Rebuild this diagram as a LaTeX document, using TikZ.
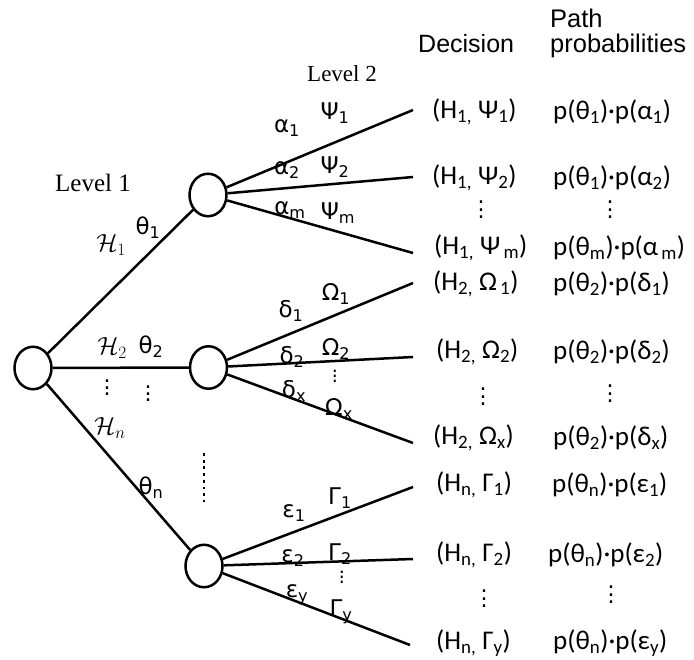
\documentclass[tikz,border=0pt]{standalone}
\usepackage{fontspec}
\usetikzlibrary{shapes.geometric}
\newfontfamily\brfont{DejaVu Sans}
\newfontfamily\colfont{Carlito}
\newfontfamily\hdfont{Liberation Sans}
\newfontfamily\lvfont{Liberation Serif}
\newcommand\sub[1]{\textsubscript{#1}}
% three stacked dots with a given pitch
\newcommand\vdd[1]{\vbox{\baselineskip=#1\lineskiplimit=0pt\hbox{.}\hbox{.}\hbox{.}}}
\tikzset{
  edge/.style={line width=2.5pt},
  chance/.style={draw, ellipse, line width=2.5pt, minimum width=37pt,
    minimum height=42.5pt, inner sep=0pt},
  brlab/.style={inner sep=0pt, font=\fontsize{23}{23}\brfont},
  callab/.style={inner sep=0pt, font=\fontsize{27}{27}\selectfont},
  lvlab/.style={inner sep=0pt, font=\fontsize{25}{25}\lvfont},
  hdlab/.style={inner sep=0pt, anchor=base west, font=\fontsize{25.5}{25.5}\hdfont},
  declab/.style={inner sep=0pt, anchor=west, font=\fontsize{27}{27}\colfont},
  prlab/.style={inner sep=0pt, anchor=west, font=\fontsize{27}{27}\colfont},
  coldots/.style={inner sep=0pt, font=\fontsize{22}{22}\brfont},
  smdots/.style={inner sep=0pt, font=\fontsize{22}{22}\brfont},
  tinydots/.style={inner sep=0pt, font=\fontsize{19}{19}\brfont},
  dotline/.style={line width=2.8pt, dash pattern=on 2.8pt off 3.9pt},
}
\begin{document}
\begin{tikzpicture}[x=1pt,y=-1pt]
\useasboundingbox (0,0) rectangle (694,660);

% chance nodes
\node[chance] (r)  at (33,368) {};
\node[chance] (c1) at (208,195) {};
\node[chance] (c2) at (208.5,367.5) {};
\node[chance] (c3) at (204,566) {};

% first-level branches
\draw[edge] (r) -- (c1);
\draw[edge] (r) -- (c2);
\draw[edge] (r) -- (c3);

% leaf ends
\coordinate (e11) at (413,110);
\coordinate (e12) at (413,177);
\coordinate (e1m) at (413,253);
\coordinate (e21) at (413,283);
\coordinate (e22) at (413,357);
\coordinate (e2x) at (413,443);
\coordinate (e31) at (413,487);
\coordinate (e32) at (413,559);
\coordinate (e3y) at (410,645);

% second-level branches
\draw[edge] (c1) -- (e11);
\draw[edge] (c1) -- (e12);
\draw[edge] (c1) -- (e1m);
\draw[edge] (c2) -- (e21);
\draw[edge] (c2) -- (e22);
\draw[edge] (c2) -- (e2x);
\draw[edge] (c3) -- (e31);
\draw[edge] (c3) -- (e32);
\draw[edge] (c3) -- (e3y);

% level captions
\node[lvlab] (lv1) at (93,183) {Level 1};
\node[lvlab, font=\fontsize{23}{23}\lvfont] (lv2) at (342,74) {Level 2};

% first-level labels
\node[callab] (h1) at (111,245) {$\mathcal{H}_1$};
\node[brlab] (t1) at (148,228) {θ\sub{1}};
\node[callab] (h2) at (112,348) {$\mathcal{H}_2$};
\node[brlab] (t2) at (151,347) {θ\sub{2}};
\node[smdots] (d1a) at (107,388) {\vdd{6.5pt}};
\node[smdots] (d1b) at (148,394) {\vdd{6.5pt}};
\node[callab] (hn) at (110,428) {$\mathcal{H}_n$};
\node[brlab] (tn) at (151,488) {θ\sub{n}};
\coordinate (dl1) at (204,453);
\coordinate (dl2) at (204,502);
\draw[dotline] (dl1) -- (dl2);

% second-level labels, branch 1
\node[brlab] (a1) at (287,128) {α\sub{1}};
\node[brlab] (p1) at (335,113) {Ψ\sub{1}};
\node[brlab] (a2) at (287,170) {α\sub{2}};
\node[brlab] (p2) at (335,167) {Ψ\sub{2}};
\node[brlab] (am) at (290,210) {α\sub{m}};
\node[brlab] (pm) at (338,213) {Ψ\sub{m}};
% branch 2
\node[brlab] (dd1) at (291,311) {δ\sub{1}};
\node[brlab] (o1) at (336,294) {Ω\sub{1}};
\node[brlab] (dd2) at (292,357) {δ\sub{2}};
\node[brlab] (o2) at (336,349) {Ω\sub{2}};
\node[brlab] (ddx) at (294,391) {δ\sub{x}};
\node[brlab] (ox) at (339,409) {Ω\sub{x}};
\node[tinydots] (od) at (335,376) {\vdd{5pt}};
% branch 3
\node[brlab] (ee1) at (294,513) {ε\sub{1}};
\node[brlab] (g1) at (340,498) {Γ\sub{1}};
\node[brlab] (ee2) at (293,558) {ε\sub{2}};
\node[brlab] (g2) at (340,554) {Γ\sub{2}};
\node[brlab] (eey) at (297,595) {ε\sub{y}};
\node[brlab] (gy) at (341,612) {Γ\sub{y}};
\node[tinydots] (gd) at (342,577) {\vdd{5pt}};

% column headers
\node[hdlab, font=\fontsize{25}{25}\hdfont] (hdec) at (418,53) {Decision};
\node[hdlab] (hpath) at (550,28) {Path};
\node[hdlab] (hprob) at (550,53) {probabilities};

% decisions
\node[declab] (x11) at (432,112) {(H\sub{1,} Ψ\sub{1})};
\node[declab] (x12) at (432,178) {(H\sub{1,} Ψ\sub{2})};
\node[coldots] (xd1) at (481,210) {\vdd{7.5pt}};
\node[declab] (x1m) at (434,248) {(H\sub{1,} Ψ\sub{\,m})};
\node[declab] (x21) at (433,284) {(H\sub{2,} Ω\sub{\,1})};
\node[declab] (x22) at (436,352) {(H\sub{2,} Ω\sub{2})};
\node[coldots] (xd2) at (483,397) {\vdd{7.5pt}};
\node[declab] (x2x) at (433,438) {(H\sub{2,} Ω\sub{x})};
\node[declab] (x31) at (436,485) {(H\sub{n,} Γ\sub{1})};
\node[declab] (x32) at (436,555) {(H\sub{n,} Γ\sub{2})};
\node[coldots] (xd3) at (484,599) {\vdd{7.5pt}};
\node[declab] (x3y) at (436,643) {(H\sub{n,} Γ\sub{y})};

% path probabilities
\node[prlab] (q11) at (553,112) {p(θ\sub{1})·p(α\sub{1})};
\node[prlab] (q12) at (553,178) {p(θ\sub{1})·p(α\sub{2})};
\node[coldots] (qd1) at (610,210) {\vdd{7.5pt}};
\node[prlab] (q1m) at (553,248) {p(θ\sub{m})·p(α\sub{\,m})};
\node[prlab] (q21) at (553,284) {p(θ\sub{2})·p(δ\sub{1})};
\node[prlab] (q22) at (553,352) {p(θ\sub{2})·p(δ\sub{2})};
\node[coldots] (qd2) at (610,394) {\vdd{7.5pt}};
\node[prlab] (q2x) at (553,438) {p(θ\sub{2})·p(δ\sub{x})};
\node[prlab] (q31) at (552,485) {p(θ\sub{n})·p(ε\sub{1})};
\node[prlab] (q32) at (548,555) {p(θ\sub{n})·p(ε\sub{2})};
\node[coldots] (qd3) at (611,595) {\vdd{7.5pt}};
\node[prlab] (q3y) at (553,643) {p(θ\sub{n})·p(ε\sub{y})};
\end{tikzpicture}
\end{document}
